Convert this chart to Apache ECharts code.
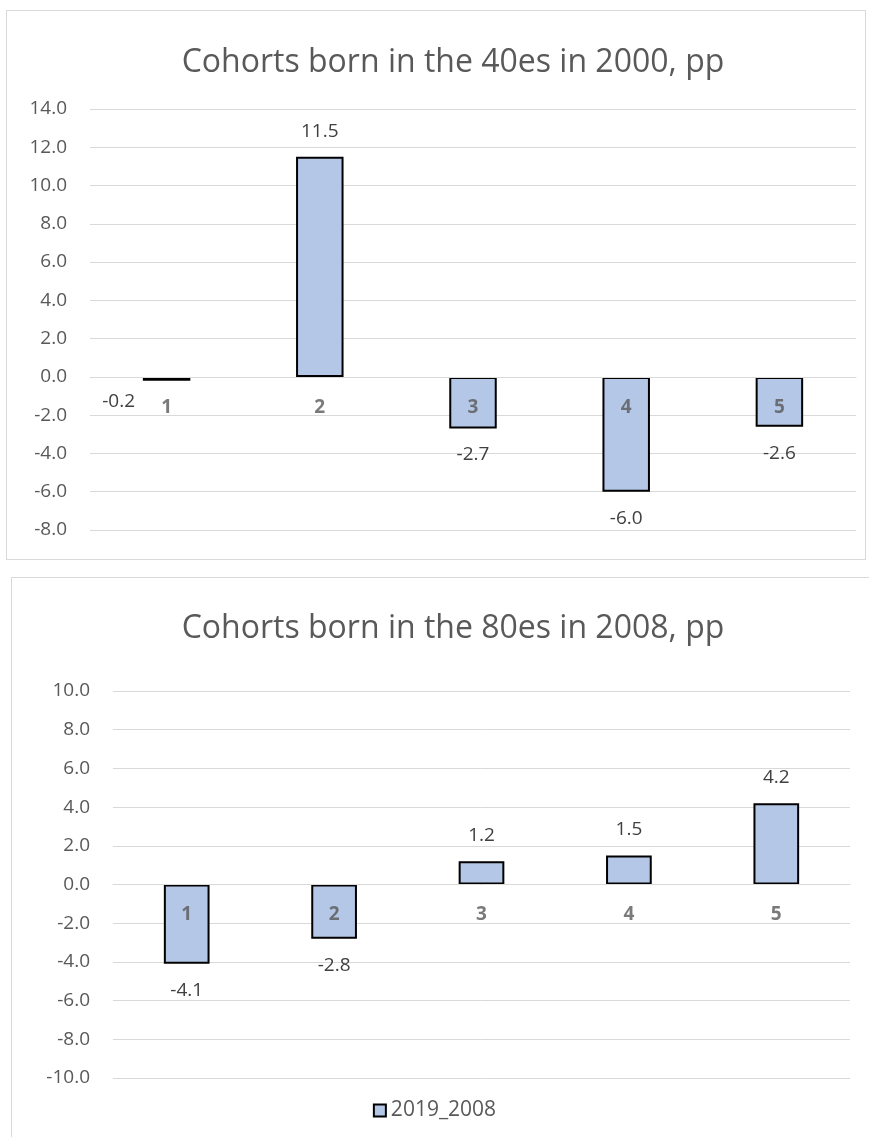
<!DOCTYPE html>
<html>
<head>
<meta charset="utf-8">
<script src="https://cdn.jsdelivr.net/npm/echarts@6/dist/echarts.min.js"></script>
<style>
body{margin:0;background:#fff;}
#page{position:relative;width:869px;height:1137px;overflow:hidden;}
.box{position:absolute;border:1px solid #d9d9d9;box-sizing:border-box;}
#main{position:absolute;left:0;top:0;width:869px;height:1137px;}
</style>
</head>
<body>
<div id="page">
    <div class="box" style="left:6px;top:10px;width:860px;height:550px"></div>
    <div class="box" style="left:11px;top:577px;width:870px;height:580px"></div>
    <div id="main"></div>
</div>
<script>
// data
var categories = ['1', '2', '3', '4', '5']
var values40s = [-0.2, 11.5, -2.7, -6.0, -2.6]
var values80s = [-4.1, -2.8, 1.2, 1.5, 4.2]
var title40s = 'Cohorts born in the 40es in 2000, pp'
var title80s = 'Cohorts born in the 80es in 2008, pp'
var seriesName = '2019_2008'

var FONT = '"Open Sans", sans-serif'
var barFill = '#b4c7e7'

function barData(vals, tweak){
    return vals.map(function(v, i){
        var item = {
            value: v,
            label: {position: v >= 0 ? 'top' : 'bottom', distance: v >= 0 ? 16 : 17}
        }
        if(tweak && tweak[i]) item.label.offset = tweak[i]
        return item
    })
}

function yAxis(idx, min, max){
    return {
        type: 'value', gridIndex: idx, min: min, max: max, interval: 2,
        axisLine: {show: false}, axisTick: {show: false},
        splitLine: {lineStyle: {color: '#d9d9d9', width: 1}},
        axisLabel: {
            margin: 23, color: '#595959', fontSize: 19, fontFamily: FONT,
            formatter: function(v){ return v.toFixed(1) }
        }
    }
}

function xAxis(idx){
    return {
        type: 'category', gridIndex: idx, data: categories, z: 5,
        axisLine: {onZero: true, lineStyle: {color: '#d9d9d9', width: 1}},
        axisTick: {show: false},
        axisLabel: {show: false}
    }
}

// category names sit just under the zero line, like excel "next to axis"
function catLabels(idx){
    return {
        type: 'scatter', xAxisIndex: idx, yAxisIndex: idx, z: 6,
        symbolSize: 0, silent: true,
        label: {
            show: true, position: 'bottom', distance: 21,
            color: '#595959', fontSize: 19, fontWeight: 'bold', fontFamily: FONT,
            formatter: function(p){ return categories[p.dataIndex] }
        },
        data: categories.map(function(c){ return [c, 0] })
    }
}

var labelStyle = {
    show: true, color: '#404040', fontSize: 19, fontFamily: FONT,
    formatter: function(p){ return p.value.toFixed(1) }
}

var myChart = echarts.init(document.getElementById('main'))
var option = {
    animation: false,
    title: [
        {text: title40s, left: 448, top: 42, textAlign: 'center',
         textStyle: {color: '#595959', fontSize: 32, fontWeight: 'normal', fontFamily: FONT}},
        {text: title80s, left: 448, top: 608, textAlign: 'center',
         textStyle: {color: '#595959', fontSize: 32, fontWeight: 'normal', fontFamily: FONT}}
    ],
    legend: {
        data: [seriesName], left: 'center', top: 1095,
        itemWidth: 12, itemHeight: 12, itemGap: 6,
        icon: 'rect',
        itemStyle: {borderColor: '#000', borderWidth: 2},
        textStyle: {color: '#595959', fontSize: 21, fontFamily: FONT}
    },
    grid: [
        {left: 90, top: 109, width: 766, height: 421},
        {left: 113, top: 691, width: 737, height: 387}
    ],
    xAxis: [xAxis(0), xAxis(1)],
    yAxis: [yAxis(0, -8, 14), yAxis(1, -10, 10)],
    series: [
        {
            name: seriesName, type: 'bar', xAxisIndex: 0, yAxisIndex: 0,
            barWidth: '31%',
            itemStyle: {color: barFill, borderColor: '#000', borderWidth: 2},
            label: labelStyle,
            data: barData(values40s, {0: [-48, -6]})
        },
        {
            name: seriesName, type: 'bar', xAxisIndex: 1, yAxisIndex: 1,
            barWidth: '31%',
            itemStyle: {color: barFill, borderColor: '#000', borderWidth: 2},
            label: labelStyle,
            data: barData(values80s)
        },
        catLabels(0),
        catLabels(1)
    ]
}
myChart.setOption(option)
</script>
</body>
</html>
